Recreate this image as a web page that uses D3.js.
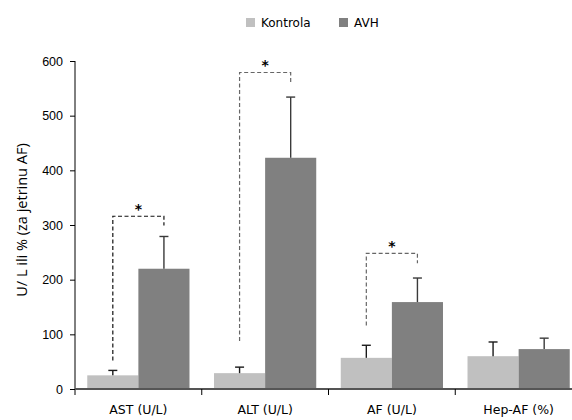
<!DOCTYPE html>
<html>
<head>
<meta charset="utf-8">
<script src="https://cdn.jsdelivr.net/npm/d3@7"></script>
<style>
  body { margin: 0; background: #fff; }
  svg { display: block; }
  .tick text { font-family: "DejaVu Sans", sans-serif; fill: #000; }
</style>
</head>
<body>
<svg id="chart"></svg>
<script>
// chart values
const categories = ['AST (U/L)', 'ALT (U/L)', 'AF (U/L)', 'Hep-AF (%)'];
const groups = ['Kontrola', 'AVH'];
const kontrolaMean = [25, 29, 57, 60];
const kontrolaErr = [9, 11, 23, 26];
const avhMean = [220, 423, 159, 73];
const avhErr = [59, 111, 44, 20];
const yTicks = [0, 100, 200, 300, 400, 500, 600];

// significance brackets (values on y scale)
const sigCategories = ['AST (U/L)', 'ALT (U/L)', 'AF (U/L)'];
const sigLeft = [52, 88, 116];
const sigTop = [316, 579, 248];
const sigRight = [299, 560, 230];
const sigLabel = ['*', '*', '*'];

const width = 572, height = 420;
const colors = {Kontrola: '#c0c0c0', AVH: '#808080'};
const errColors = {Kontrola: '#1a1a1a', AVH: '#3a3a3a'};

const svg = d3.select('#chart')
    .attr('width', width)
    .attr('height', height);

const x = d3.scaleBand()
    .domain(categories)
    .range([75, 582]);

const xSub = d3.scaleBand()
    .domain(groups)
    .range([0, x.bandwidth()])
    .paddingOuter(0.24);

const y = d3.scaleLinear()
    .domain([0, 600])
    .range([389, 61]);

const rows = [];
categories.forEach((c, i) => {
  rows.push({cat: c, group: 'Kontrola', mean: kontrolaMean[i], err: kontrolaErr[i]});
  rows.push({cat: c, group: 'AVH', mean: avhMean[i], err: avhErr[i]});
});

// y axis
const yAxisG = svg.append('g')
    .attr('transform', `translate(${x.range()[0]},0)`)
    .call(d3.axisLeft(y).tickValues(yTicks).tickSize(5).tickPadding(7))
    .call(g => g.select('.domain').remove());
yAxisG.selectAll('.tick text')
    .style('font-family', '"Liberation Sans", Arial, sans-serif')
    .style('font-size', '12.5px');
yAxisG.selectAll('.tick line').attr('stroke', '#000');

svg.append('line')
    .attr('x1', x.range()[0]).attr('x2', x.range()[0])
    .attr('y1', y(600)).attr('y2', y(0) + 6)
    .attr('stroke', '#000')
    .attr('stroke-width', 1);

svg.append('text')
    .attr('transform', `translate(23,${(y(0) + y(600)) / 2 - 5}) rotate(-90)`)
    .attr('text-anchor', 'middle')
    .attr('dominant-baseline', 'middle')
    .style('font-family', '"Open Sans", sans-serif')
    .style('font-size', '14.5px')
    .text('U/ L ili % (za jetrinu AF)');

// bars
svg.append('g').selectAll('rect')
    .data(rows)
  .join('rect')
    .attr('x', d => x(d.cat) + xSub(d.group))
    .attr('y', d => y(d.mean))
    .attr('width', xSub.bandwidth())
    .attr('height', d => y(0) - y(d.mean))
    .attr('fill', d => colors[d.group]);

// error bars (upper only)
const errG = svg.append('g').selectAll('g')
    .data(rows)
  .join('g')
    .attr('stroke', d => errColors[d.group])
    .attr('stroke-width', 1.4);
errG.append('line')
    .attr('x1', d => x(d.cat) + xSub(d.group) + xSub.bandwidth() / 2)
    .attr('x2', d => x(d.cat) + xSub(d.group) + xSub.bandwidth() / 2)
    .attr('y1', d => y(d.mean))
    .attr('y2', d => y(d.mean + d.err));
errG.append('line')
    .attr('x1', d => x(d.cat) + xSub(d.group) + xSub.bandwidth() / 2 - 4.5)
    .attr('x2', d => x(d.cat) + xSub(d.group) + xSub.bandwidth() / 2 + 4.5)
    .attr('y1', d => y(d.mean + d.err))
    .attr('y2', d => y(d.mean + d.err));

// x axis baseline and labels
svg.append('line')
    .attr('x1', x.range()[0]).attr('x2', width)
    .attr('y1', y(0)).attr('y2', y(0))
    .attr('stroke', '#555')
    .attr('stroke-width', 2);

svg.append('g').selectAll('line')
    .data(categories.slice(1))
  .join('line')
    .attr('x1', d => x(d)).attr('x2', d => x(d))
    .attr('y1', y(0)).attr('y2', y(0) + 6)
    .attr('stroke', '#000');

const xAxisG = svg.append('g')
    .attr('transform', `translate(0,${y(0)})`)
    .call(d3.axisBottom(x).tickSize(0).tickPadding(16))
    .call(g => g.select('.domain').remove());
xAxisG.selectAll('.tick text').style('font-size', '12.5px');

// significance brackets
const sig = svg.append('g').selectAll('g')
    .data(sigCategories.map((c, i) => ({cat: c, left: sigLeft[i], top: sigTop[i], right: sigRight[i], label: sigLabel[i], idx: i})))
  .join('g');
sig.append('path')
    .attr('d', d => {
      const xl = x(d.cat) + xSub('Kontrola') + xSub.bandwidth() / 2;
      const xr = x(d.cat) + xSub('AVH') + xSub.bandwidth() / 2;
      return `M${xl},${y(d.left)}V${y(d.top)}H${xr}V${y(d.right)}`;
    })
    .attr('fill', 'none')
    .attr('stroke', d => d.idx === 0 ? '#111' : '#666')
    .attr('stroke-width', 1.2)
    .attr('stroke-dasharray', '4,2.5');
sig.append('text')
    .attr('x', d => (x(d.cat) + xSub('Kontrola') + x(d.cat) + xSub('AVH') + xSub.bandwidth()) / 2)
    .attr('y', d => y(d.top) - 2)
    .attr('text-anchor', 'middle')
    .style('font-family', '"DejaVu Sans", sans-serif')
    .style('font-size', '14px')
    .style('font-weight', 'bold')
    .text(d => d.label);

// legend
const legendX = [246, 339];
const legend = svg.append('g').selectAll('g')
    .data(groups)
  .join('g')
    .attr('transform', (d, i) => `translate(${legendX[i]},18)`);
legend.append('rect')
    .attr('width', 9).attr('height', 9)
    .attr('fill', d => colors[d]);
legend.append('text')
    .attr('x', 15).attr('y', 9)
    .style('font-family', '"DejaVu Sans", sans-serif')
    .style('font-size', '12px')
    .text(d => d);
</script>
</body>
</html>
